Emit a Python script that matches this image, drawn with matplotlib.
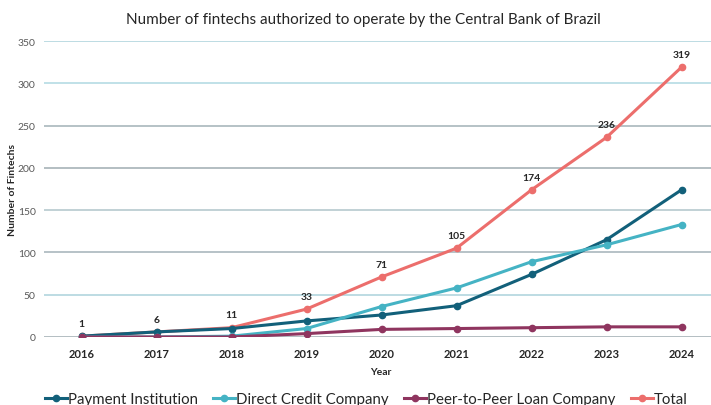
import matplotlib
matplotlib.use("Agg")
import matplotlib.pyplot as plt
from matplotlib.lines import Line2D

plt.rcParams['font.family'] = ['Lato', 'DejaVu Sans']

years = [2016, 2017, 2018, 2019, 2020, 2021, 2022, 2023, 2024]
payment_institution = [1, 6, 10, 19, 26, 37, 74, 115, 174]
direct_credit = [0, 0, 1, 10, 36, 58, 89, 109, 133]
p2p_loan = [0, 0, 0, 4, 9, 10, 11, 12, 12]
total = [1, 6, 11, 33, 71, 105, 174, 236, 319]
y_ticks = [0, 50, 100, 150, 200, 250, 300, 350]

series_names = ["Payment Institution", "Direct Credit Company", "Peer-to-Peer Loan Company", "Total"]
colors = ["#12607a", "#45b3c4", "#8f355f", "#ec6e6c"]

W, H = 711, 406
fig = plt.figure(figsize=(W / 100, H / 100), dpi=100)
left, right, top, bottom = 44, 719, 42, 338
ax = fig.add_axes([left / W, 1 - bottom / H, (right - left) / W, (bottom - top) / H])

grid_colors = ["#a7b3b8", "#b2d6de", "#aab8bd", "#b6c9ce", "#a7b3b8", "#a9b7bc", "#b5dbe4", "#b2d6de"]
for v, gc in zip(y_ticks, grid_colors):
    ax.axhline(v, color=gc, lw=1.2, zorder=0)

data = [payment_institution, direct_credit, p2p_loan, total]
order = [3, 0, 1, 2]
handles = []
for i, (name, vals, c) in enumerate(zip(series_names, data, colors)):
    z = 3 + order.index(i)
    ax.plot(years, vals, color=c, lw=2.2, marker='o', ms=4.5, zorder=z)
    handles.append(Line2D([], [], color=c, lw=2.2, marker='o', ms=4.5))

for x, v in zip(years, total):
    ax.annotate(str(v), (x, v), xytext=(0, 6), textcoords='offset points',
                ha='center', va='bottom', fontsize=7.5, fontweight='bold', color='#262626')

ax.set_xlim(2015.5, 2024.5)
ax.set_ylim(0, 350)
ax.set_yticks(y_ticks)
ax.set_xticks(years)
ax.set_xticklabels([str(y) for y in years], fontsize=8, fontweight='bold', color='#262626')
ax.set_yticklabels([str(v) for v in y_ticks], fontsize=7.5, color='#595959')
ax.tick_params(axis='both', length=0)
ax.tick_params(axis='x', pad=8)
ax.tick_params(axis='y', pad=6)
for s in ax.spines.values():
    s.set_visible(False)

ax.set_xlabel("Year", fontsize=7.5, fontweight='bold', color='#262626')
ax.xaxis.set_label_coords((381 - left) / (right - left), -(368 - bottom) / (bottom - top))
ax.set_ylabel("Number of Fintechs", fontsize=7.5, fontweight='bold', color='#262626')
ax.yaxis.set_label_coords(-(44 - 17) / (right - left), 0.5)

fig.text(363 / W, 1 - 20 / H, "Number of fintechs authorized to operate by the Central Bank of Brazil",
         ha='center', va='center', fontsize=11, color='#262626')

fig.legend(handles, series_names, loc='center left', bbox_to_anchor=(45 / W, 1 - 400 / H),
           ncol=4, frameon=False, fontsize=10.8, handlelength=1.45, handletextpad=0.05,
           columnspacing=1.05, borderpad=0, borderaxespad=0, labelcolor='#262626')

fig.savefig("out.png", dpi=100)
